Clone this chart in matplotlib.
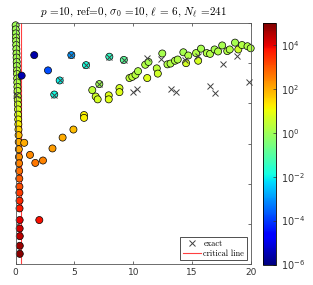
import numpy as np
import matplotlib
matplotlib.use("Agg")
import matplotlib.pyplot as plt
from matplotlib.colors import LogNorm
from matplotlib.lines import Line2D

plt.rcParams['mathtext.fontset'] = 'cm'

# Column of eigenvalue estimates near the imaginary axis
col_x = [0.00, 0.01, 0.02, 0.03, 0.04, 0.05, 0.06, 0.07, 0.08, 0.09, 0.10, 0.11,
         0.12, 0.13, 0.14, 0.15, 0.16, 0.17, 0.18, 0.19, 0.20, 0.21, 0.22, 0.23,
         0.24, 0.25, 0.26, 0.27, 0.28, 0.29, 0.30, 0.31, 0.32, 0.32, 0.33, 0.33,
         0.34, 0.34, 0.35, 0.35, 0.35]
col_y = [5.94, 5.84, 5.74, 5.64, 5.55, 5.45, 5.35, 5.24, 5.14, 5.03, 4.93, 4.82,
         4.73, 4.62, 4.52, 4.41, 4.31, 4.18, 4.08, 3.97, 3.85, 3.72, 3.60, 3.48,
         3.35, 3.21, 3.04, 2.86, 2.67, 2.51, 2.32, 2.13, 1.93, 1.78, 1.58, 1.39,
         1.10, 0.89, 0.70, 0.46, 0.26]
col_logerr = [0.0, 0.0, 0.0, 0.1, 0.1, 0.1, 0.1, 0.1, 0.1, 0.1, 0.1, 0.2,
              0.2, 0.2, 0.2, 0.3, 0.3, 0.4, 0.5, 0.6, 0.7, 0.8, 1.0, 1.2,
              1.5, 1.8, 2.0, 2.1, 2.3, 2.5, 2.7, 2.9, 3.1, 3.3, 3.5, 3.7,
              4.0, 4.2, 4.4, 4.7, 4.9]

# Other computed eigenvalues
pts_x = [1.58, 0.51, 4.73, 2.75, 5.98, 3.74, 3.28, 7.96, 9.19, 7.11, 6.51, 6.80,
         6.97, 7.91, 7.91, 8.82, 8.82, 9.67, 9.91, 10.18, 10.40, 11.01, 11.29, 11.18,
         11.99, 12.08, 12.46, 12.90, 13.16, 13.54, 13.77, 14.25, 14.67, 14.48, 15.33,
         15.51, 15.75, 16.24, 16.52, 16.90, 17.20, 17.55, 17.98, 18.19, 18.64, 18.92,
         19.23, 19.70, 19.97,
         5.81, 5.81, 4.91, 3.99, 3.13, 2.32, 1.67, 1.22, 0.73, 2.01]
pts_y = [5.20, 4.69, 5.20, 4.82, 4.95, 4.57, 4.22, 5.16, 5.08, 4.48, 4.33, 4.17,
         4.10, 4.20, 4.10, 4.38, 4.28, 4.63, 4.66, 4.71, 4.80, 4.96, 5.03, 4.63,
         4.87, 4.74, 5.24, 4.97, 4.99, 5.06, 5.09, 5.27, 5.19, 5.00, 5.25,
         5.06, 5.36, 5.25, 5.23, 5.34, 5.29, 5.44, 5.30, 5.34, 5.51, 5.34,
         5.45, 5.42, 5.37,
         3.71, 3.64, 3.35, 3.15, 2.88, 2.58, 2.52, 2.72, 3.02, 1.10]
pts_logerr = [-5.6, -5.5, -3.0, -3.8, -1.8, -2.0, -1.9, -1.5, -0.9, 0.0, 0.4, 0.6,
              0.7, 0.8, 0.8, 0.7, 0.8, 0.4, 0.4, 0.3, 0.2, 0.2, 0.1, 0.8,
              0.4, 0.6, 0.1, 0.2, 0.2, 0.2, 0.2, 0.1, 0.2, 0.7, 0.2,
              0.7, 0.1, 0.2, 0.2, 0.1, 0.2, 0.1, 0.2, 0.2, 0.1, 0.6,
              0.2, 0.2, 0.2,
              1.2, 1.2, 1.8, 2.0, 2.2, 2.5, 2.6, 2.4, 2.0, 3.8]

# Exact eigenvalues
exact_x = [11.13, 12.38, 14.39, 15.52, 13.23, 13.63, 9.94, 10.28, 16.52, 16.91,
           17.58, 18.84, 19.79, 4.73, 5.98, 3.74, 3.28, 7.96, 9.19, 7.11, 0.00]
exact_y = [5.12, 5.11, 5.07, 5.17, 4.35, 4.29, 4.29, 4.35, 4.43, 4.25,
           4.97, 5.19, 4.53, 5.20, 4.95, 4.57, 4.22, 5.16, 5.08, 4.48, 4.20]

critical_x = 0.49

title = r"$p$ =10, ref=0, $\sigma_0$ =10, $\ell$ = 6, $N_\ell$ =241"
x_ticks = [0, 5, 10, 15, 20]
cbar_ticks = [1e-6, 1e-4, 1e-2, 1e0, 1e2, 1e4]

fig = plt.figure(figsize=(3.13, 2.85), dpi=100)
ax = fig.add_axes([0.050, 0.0726, 0.752, 0.847])
cax = fig.add_axes([262.7 / 313, (285 - 264.5) / 285, 13.3 / 313, 241.5 / 285])

norm = LogNorm(vmin=1e-6, vmax=1e5)
ax.axvline(critical_x, color='#ff4040', lw=0.8, zorder=1)

allx = list(col_x) + list(pts_x)
ally = list(col_y) + list(pts_y)
allc = [10.0 ** v for v in list(col_logerr) + list(pts_logerr)]
sc = ax.scatter(allx, ally, c=allc, cmap='jet', norm=norm, s=26,
                edgecolors='k', linewidths=0.5, zorder=2, clip_on=False)
ax.plot(exact_x, exact_y, 'x', color='#404040', ms=4, mew=0.7, zorder=3,
        linestyle='none', clip_on=False)

ax.set_xlim(0, 20)
ax.set_ylim(0, 6)
ax.set_xticks(x_ticks)
ax.set_xticklabels([str(t) for t in x_ticks], fontsize=6.5, color='#333333')
ax.set_yticks(range(0, 7))
ax.set_yticklabels([])
ax.tick_params(direction='in', top=True, right=True, length=2.5, width=0.5,
               colors='#333333', pad=3)
ax.tick_params(axis='x', labelcolor='#333333')
for s in ax.spines.values():
    s.set_linewidth(0.6)
    s.set_color('#555555')

ax.set_title(title, fontsize=8, family='cmr10', pad=5)

handles = [Line2D([], [], marker='x', color='#404040', ls='none', ms=4, mew=0.7),
           Line2D([], [], color='#ff4040', lw=0.8)]
leg = ax.legend(handles, ['exact', 'critical line'], loc='lower right',
                prop={'family': 'cmr10', 'size': 6}, frameon=True, fancybox=False,
                edgecolor='#333333', framealpha=1, borderaxespad=0.5,
                handlelength=2.2, handletextpad=0.3, borderpad=0.3, labelspacing=0.2)
leg.get_frame().set_linewidth(0.6)

cb = fig.colorbar(sc, cax=cax, ticks=cbar_ticks)
cb.ax.tick_params(labelsize=7, direction='in', length=2, width=0.5, colors='#333333')
cb.outline.set_linewidth(0.6)
cb.ax.minorticks_off()

fig.savefig('out.png', dpi=100)
